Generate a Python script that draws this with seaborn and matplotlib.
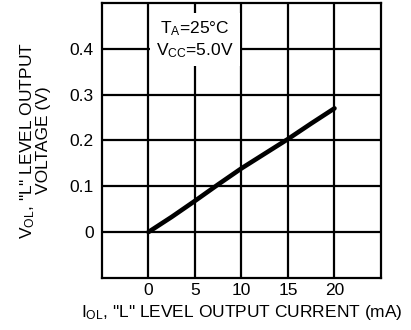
import matplotlib
matplotlib.use("Agg")
import matplotlib.pyplot as plt
import seaborn as sns
import pandas as pd

# Data
current_ma = [0, 2.5, 5, 7.5, 10, 12.5, 15, 17.5, 20]
vol_v = [0.0, 0.033, 0.068, 0.104, 0.139, 0.171, 0.203, 0.237, 0.270]
x_ticks = [0, 5, 10, 15, 20]
y_ticks = [0, 0.1, 0.2, 0.3, 0.4]
y_tick_labels = ["0", "0.1", "0.2", "0.3", "0.4"]

sns.set_theme(style="white")
plt.rcParams['font.family'] = ['Liberation Sans', 'DejaVu Sans']
plt.rcParams['mathtext.fontset'] = 'custom'
plt.rcParams['mathtext.rm'] = 'Liberation Sans'
plt.rcParams['mathtext.it'] = 'Liberation Sans'

df = pd.DataFrame({"I": current_ma, "V": vol_v})

fig = plt.figure(figsize=(4.11, 3.30), dpi=100)
ax = fig.add_axes([0.248, 0.158, 0.679, 0.833])

sns.lineplot(data=df, x="I", y="V", ax=ax, color="black", linewidth=3.3, zorder=3)

ax.set_xlim(-5, 25)
ax.set_ylim(-0.1, 0.5)
ax.set_xticks(x_ticks)
ax.set_xticklabels([str(t) for t in x_ticks])
ax.set_yticks(y_ticks)
ax.set_yticklabels(y_tick_labels)
ax.grid(True, color="black", linewidth=1.6)
ax.tick_params(axis="both", length=0, labelsize=12.5, colors="black")
ax.tick_params(axis="x", pad=4)
ax.tick_params(axis="y", pad=6)
for s in ax.spines.values():
    s.set_visible(True)
    s.set_color("black")
    s.set_linewidth(1.6)

ax.set_xlabel("I$_{\\mathrm{OL}}$, \"L\" LEVEL OUTPUT CURRENT (mA)", fontsize=12.5, color="black", labelpad=3)
ax.set_ylabel("V$_{\\mathrm{OL}}$, \"L\" LEVEL OUTPUT\nVOLTAGE (V)", fontsize=12.5, color="black", labelpad=13, linespacing=0.95)

ax.text(5, 0.42, "T$_{\\mathrm{A}}$=25°C\nV$_{\\mathrm{CC}}$=5.0V", ha="center", va="center",
        fontsize=12.5, color="black", linespacing=1.2, zorder=4,
        bbox=dict(facecolor="white", edgecolor="none", pad=4.5))

fig.savefig("out.png", dpi=100)
